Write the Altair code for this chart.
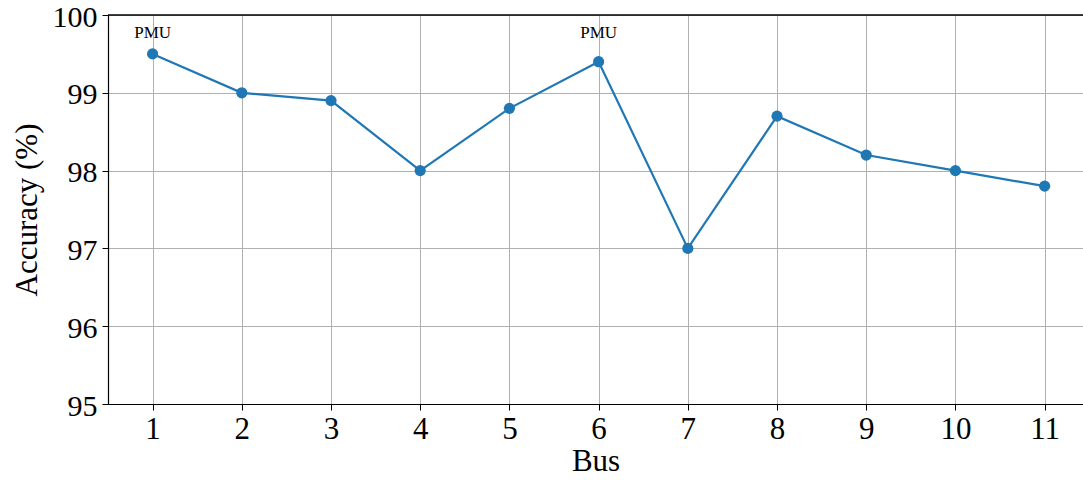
import altair as alt
import pandas as pd

bus = [1, 2, 3, 4, 5, 6, 7, 8, 9, 10, 11]
accuracy = [99.5, 99.0, 98.9, 98.0, 98.8, 99.4, 97.0, 98.7, 98.2, 98.0, 97.8]
pmu_bus = [1, 6]
pmu_text = ["PMU", "PMU"]

df = pd.DataFrame({"bus": bus, "acc": accuracy})
pmu = pd.DataFrame({"bus": pmu_bus, "label": pmu_text})

FONT = "Liberation Serif"
xs = alt.Scale(domain=[0.5, 11.43], nice=False, zero=False)
ys = alt.Scale(domain=[95, 100], nice=False, zero=False)

x_axis = alt.Axis(values=bus, format="d", title="Bus", grid=True, gridColor="#b0b0b0", gridWidth=1,
                  domainColor="black", domainWidth=1.2, tickColor="black", tickSize=6,
                  labelFont=FONT, labelFontSize=31, labelColor="black", labelPadding=4,
                  titleFont=FONT, titleFontSize=31, titleFontWeight="normal",
                  titleColor="black", titlePadding=2, labelFlush=False)
y_axis = alt.Axis(values=[95, 96, 97, 98, 99, 100], format="d", title="Accuracy (%)", grid=True,
                  gridColor="#b0b0b0", gridWidth=1, domainColor="black", domainWidth=1.2,
                  tickColor="black", tickSize=6, labelFont=FONT, labelFontSize=30,
                  labelColor="black", labelPadding=5, labelOffset=2, titleFont=FONT,
                  titleFontSize=31, titleFontWeight="normal", titleColor="black",
                  titlePadding=9, labelFlush=False)

line = alt.Chart(df).mark_line(color="#1f77b4", strokeWidth=2.2).encode(
    x=alt.X("bus:Q", scale=xs, axis=x_axis),
    y=alt.Y("acc:Q", scale=ys, axis=y_axis),
)
pts = alt.Chart(df).mark_circle(color="#1f77b4", size=125, opacity=1).encode(
    x=alt.X("bus:Q", scale=xs),
    y=alt.Y("acc:Q", scale=ys),
)
labels = alt.Chart(pmu).mark_text(font=FONT, fontSize=17, color="black",
                                  baseline="middle").encode(
    x=alt.X("bus:Q", scale=xs),
    y=alt.value(18),
    text="label:N",
)
top = alt.Chart(pmu).mark_rule(color="black", strokeWidth=1.2).encode(
    x=alt.value(0), x2=alt.value(975), y=alt.value(0)
)

chart = alt.layer(line, pts, labels, top).properties(
    width=975, height=389,
    autosize=alt.AutoSizeParams(type="none"),
    padding={"left": 108, "top": 15, "right": 0, "bottom": 78},
).configure_view(stroke=None).configure(background="white")

chart.save("out.html", embed_options={"renderer": "svg", "actions": False})
